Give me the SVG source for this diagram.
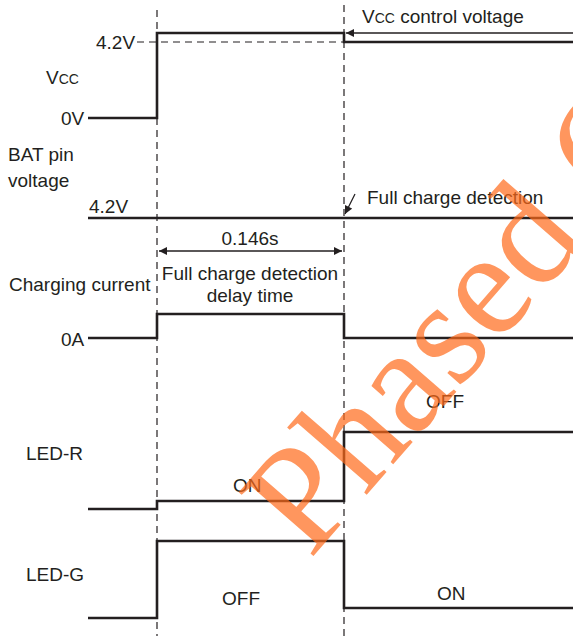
<svg xmlns="http://www.w3.org/2000/svg" width="573" height="636" viewBox="0 0 573 636">
<style>
text{font-family:"Liberation Sans",Arial,sans-serif;font-size:19px;fill:#231f20}
.sig{fill:none;stroke:#231f20;stroke-width:2.6;stroke-linejoin:miter}
.dash{fill:none;stroke:#231f20;stroke-width:1.2;stroke-dasharray:7 5}
.thin{fill:none;stroke:#231f20;stroke-width:1.3}
.wm{font-family:"Liberation Serif","Times New Roman",serif;font-size:150px;fill:#ff6a1a;fill-opacity:0.7}
</style>
<defs>
<marker id="ah" viewBox="0 0 10 10" refX="10" refY="5" markerWidth="10" markerHeight="8" markerUnits="userSpaceOnUse" orient="auto-start-reverse">
<path d="M0,0 L10,5 L0,10 Z" fill="#231f20"/>
</marker>
</defs>
<g id="guides">
<line class="dash" x1="157" y1="10" x2="157" y2="636"/>
<line class="dash" x1="344" y1="5" x2="344" y2="636"/>
<line class="dash" x1="137" y1="42" x2="344" y2="42"/>
</g>
<g id="vcc">
<text x="46" y="84">V<tspan font-size="14">CC</tspan></text>
<text x="96" y="49">4.2V</text>
<text x="61" y="125">0V</text>
<path class="sig" d="M88,118 H157 V33 H344 V42 H573"/>
</g>
<g id="bat">
<text x="8" y="161">BAT pin</text>
<text x="8" y="187">voltage</text>
<text x="89" y="213">4.2V</text>
<path class="sig" d="M88,218 H573"/>
</g>
<g id="charging">
<text x="9" y="291">Charging current</text>
<text x="61" y="346">0A</text>
<path class="sig" d="M88,338 H157 V314 H344 V338 H573"/>
</g>
<g id="ledr">
<text x="26" y="460">LED-R</text>
<text x="233" y="492">ON</text>
<text x="426" y="408">OFF</text>
<path class="sig" d="M88,509 H157 V501 H344 V432 H573"/>
</g>
<g id="ledg">
<text x="26" y="581">LED-G</text>
<text x="222" y="605">OFF</text>
<text x="437" y="600">ON</text>
<path class="sig" d="M88,618 H157 V541 H344 V608 H573"/>
</g>
<g id="connectors">
<line class="thin" x1="573" y1="33" x2="346" y2="33" marker-end="url(#ah)"/>
<line class="thin" x1="355" y1="194" x2="345" y2="214" marker-end="url(#ah)"/>
<line class="thin" x1="159" y1="251" x2="342" y2="251" marker-start="url(#ah)" marker-end="url(#ah)"/>
</g>
<g id="annotations">
<text x="362" y="23">V<tspan font-size="14">CC</tspan> control voltage</text>
<text x="367" y="204">Full charge detection</text>
<text x="250" y="245" text-anchor="middle">0.146s</text>
<text x="250" y="280" text-anchor="middle">Full charge detection</text>
<text x="250" y="302" text-anchor="middle">delay time</text>
</g>
<g id="watermark">
<text class="wm" transform="translate(310,560) rotate(-49)">Phased Out</text>
</g>
</svg>
